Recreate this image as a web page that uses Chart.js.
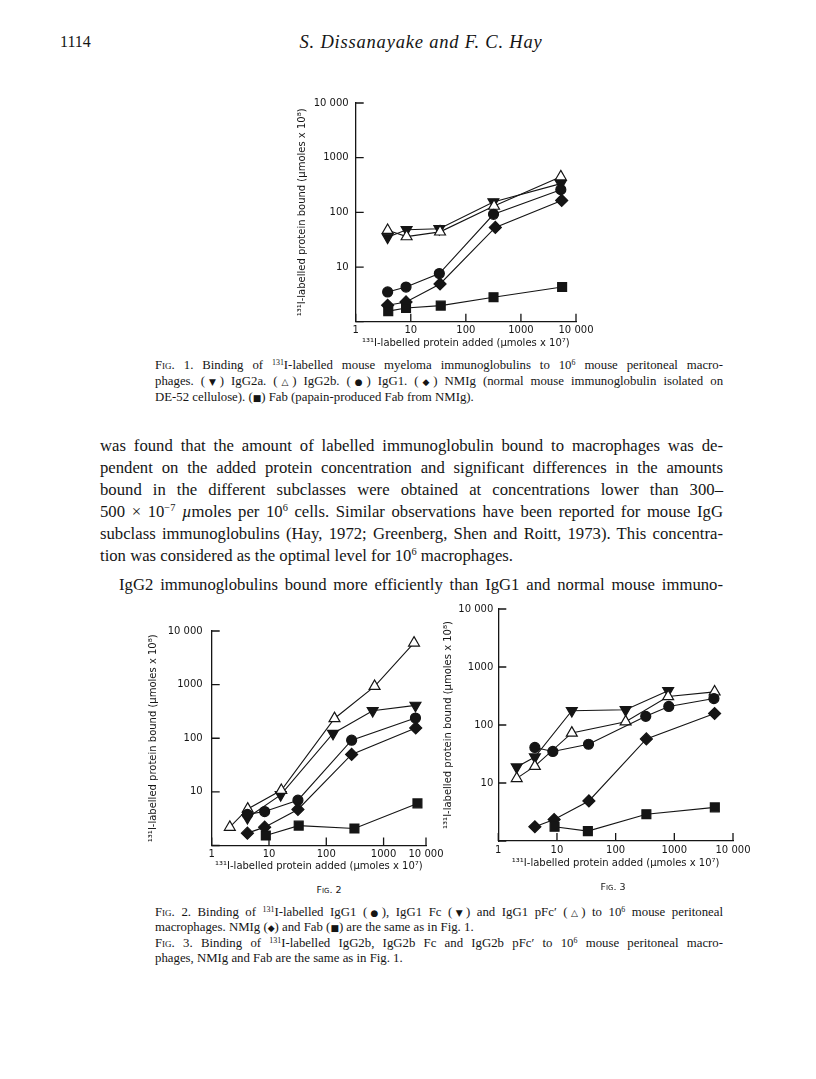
<!DOCTYPE html>
<html>
<head>
<meta charset="utf-8">
<script src="https://cdn.jsdelivr.net/npm/chart.js@4.4.1/dist/chart.umd.min.js"></script>
<style>
  body { margin: 0; background: #fff; }
  #page { position: relative; width: 816px; height: 1079px; overflow: hidden; font-family: "Liberation Serif", serif; color: #151515; }
  .t { position: absolute; white-space: nowrap; }
  .j { text-align: justify; text-align-last: justify; }
  .body { font-size: 16.7px; line-height: 22px; height: 22px; }
  .cap { font-size: 12.8px; line-height: 16px; height: 16px; }
  .sc { font-variant: small-caps; }
  .sym { font-family: "DejaVu Sans"; font-size: 9px; }
  sup { font-size: 0.62em; line-height: 0; vertical-align: 0.55em; }
  canvas { position: absolute; }
  .figlbl { position: absolute; font-family: "DejaVu Sans"; font-size: 9.5px; font-variant: small-caps; line-height: 12px; }
</style>
</head>
<body>
<div id="page">
  <div class="t" style="left:60px;top:32px;font-size:16px;line-height:20px;">1114</div>
  <div class="t" style="left:421px;top:31px;font-size:18.5px;line-height:22px;font-style:italic;transform:translateX(-50%);letter-spacing:0.8px;">S. Dissanayake and F. C. Hay</div>

  <canvas id="fig1" width="310" height="259" style="left:296px;top:90px;"></canvas>

  <div class="t cap j" style="left:155px;top:357px;width:568px;"><span class="sc">Fig.</span> 1. Binding of <sup>131</sup>I-labelled mouse myeloma immunoglobulins to 10<sup>6</sup> mouse peritoneal macro-</div>
  <div class="t cap j" style="left:155px;top:373px;width:568px;">phages. (<span class="sym">▼</span>) IgG2a. (<span class="sym">△</span>) IgG2b. (<span class="sym">●</span>) IgG1. (<span class="sym">◆</span>) NMIg (normal mouse immunoglobulin isolated on</div>
  <div class="t cap" style="left:155px;top:389px;">DE-52 cellulose). (<span class="sym">■</span>) Fab (papain-produced Fab from NMIg).</div>

  <div class="t body j" style="left:100px;top:435px;width:623px;">was found that the amount of labelled immunoglobulin bound to macrophages was de-</div>
  <div class="t body j" style="left:100px;top:457px;width:623px;">pendent on the added protein concentration and significant differences in the amounts</div>
  <div class="t body j" style="left:100px;top:479px;width:623px;">bound in the different subclasses were obtained at concentrations lower than 300–</div>
  <div class="t body j" style="left:100px;top:501px;width:623px;">500 × 10<sup>−7</sup> <i>µ</i>moles per 10<sup>6</sup> cells. Similar observations have been reported for mouse IgG</div>
  <div class="t body j" style="left:100px;top:523px;width:623px;">subclass immunoglobulins (Hay, 1972; Greenberg, Shen and Roitt, 1973). This concentra-</div>
  <div class="t body" style="left:100px;top:545px;">tion was considered as the optimal level for 10<sup>6</sup> macrophages.</div>
  <div class="t body j" style="left:119px;top:574px;width:604px;">IgG2 immunoglobulins bound more efficiently than IgG1 and normal mouse immuno-</div>

  <canvas id="fig2" width="309" height="256" style="left:147px;top:616px;"></canvas>
  <canvas id="fig3" width="321" height="271" style="left:442px;top:598px;"></canvas>

  <div class="figlbl" style="left:329px;top:884px;transform:translateX(-50%);">Fig. 2</div>
  <div class="figlbl" style="left:613px;top:881px;transform:translateX(-50%);">Fig. 3</div>

  <div class="t cap j" style="left:155px;top:904px;width:568px;"><span class="sc">Fig.</span> 2. Binding of <sup>131</sup>I-labelled IgG1 (<span class="sym">●</span>), IgG1 Fc (<span class="sym">▼</span>) and IgG1 pFc′ (<span class="sym">△</span>) to 10<sup>6</sup> mouse peritoneal</div>
  <div class="t cap" style="left:155px;top:919px;">macrophages. NMIg (<span class="sym">◆</span>) and Fab (<span class="sym">■</span>) are the same as in Fig. 1.</div>
  <div class="t cap j" style="left:155px;top:935px;width:568px;"><span class="sc">Fig.</span> 3. Binding of <sup>131</sup>I-labelled IgG2b, IgG2b Fc and IgG2b pFc′ to 10<sup>6</sup> mouse peritoneal macro-</div>
  <div class="t cap" style="left:155px;top:950px;">phages, NMIg and Fab are the same as in Fig. 1.</div>
</div>

<script>
// axis ticks as printed
const xTickVals = [1, 10, 100, 1000, 10000];
const xTickText = ['1', '10', '100', '1000', '10 000'];
const yTickVals = [1, 10, 100, 1000, 10000];
const yTickText = ['', '10', '100', '1000', '10 000'];
const xTitle = '¹³¹I-labelled protein added (µmoles x 10⁷)';
const yTitle = '¹³¹I-labelled protein bound (µmoles x 10⁸)';
// fig 2's x axis stops short of a decade but the end tick is still labelled 10 000
const fig2XMax = 5500;
const fig2XTickVals = [1, 10, 100, 1000, fig2XMax];

// Fig. 1
const f1IgG2aX = [3.8, 8.4, 33, 316, 5300];
const f1IgG2aY = [35, 48, 50, 155, 335];
const f1IgG2bX = [3.8, 8.4, 34, 325, 5300];
const f1IgG2bY = [47, 36, 44, 130, 450];
const f1IgG1X = [3.8, 8.2, 33, 318, 5300];
const f1IgG1Y = [3.5, 4.3, 7.6, 92, 260];
const f1NMIgX = [3.8, 8.2, 34, 343, 5500];
const f1NMIgY = [2.0, 2.3, 4.9, 53, 165];
const f1FabX = [3.9, 8.2, 35, 318, 5600];
const f1FabY = [1.56, 1.78, 1.97, 2.8, 4.3];

// Fig. 2
const f2PfcX = [2.07, 4.25, 16.4, 139, 697, 3400];
const f2PfcY = [2.2, 4.8, 10.7, 234, 930, 6000];
const f2FcX = [4.2, 16, 131, 645, 3600];
const f2FcY = [3.3, 8.8, 123, 327, 410];
const f2IgG1X = [4.2, 8.4, 32, 277, 3600];
const f2IgG1Y = [3.8, 4.3, 7.0, 92, 238];
const f2NMIgX = [4.2, 8.4, 32, 277, 3640];
const f2NMIgY = [1.7, 2.2, 4.7, 50, 156];
const f2FabX = [8.8, 33, 310, 3900];
const f2FabY = [1.54, 2.35, 2.07, 6.1];

// Fig. 3
const f3FcX = [2.06, 4.2, 17.9, 148, 785];
const f3FcY = [18.8, 28, 176, 183, 390];
const f3PfcX = [2.06, 4.2, 17.9, 148, 785, 4860];
const f3PfcY = [12, 19.5, 73, 114, 310, 373];
const f3IgG2bX = [4.2, 8.5, 34.5, 326, 805, 4730];
const f3IgG2bY = [41, 35, 46.6, 141, 209, 286];
const f3NMIgX = [4.2, 8.95, 35, 334, 4860];
const f3NMIgY = [1.76, 2.35, 4.9, 57.5, 158];
const f3FabX = [9.1, 33.6, 334, 4900];
const f3FabY = [1.76, 1.48, 2.9, 3.8];

const INK = '#151515';
const AXIS_FONT = { family: 'DejaVu Sans', size: 10 };
const down = { style: 'triangle', rot: 180, r: 6.3, open: false };
const openUp = { style: 'triangle', rot: 0, r: 6.3, open: true };
const dot = { style: 'circle', rot: 0, r: 5, open: false };
const diamond = { style: 'rectRot', rot: 0, r: 6, open: false };
const square = { style: 'rect', rot: 0, r: 6.3, open: false };

// little inward tick marks, printed inside the axes
const inwardTicks = {
  id: 'inwardTicks',
  afterDatasetsDraw(chart) {
    const { ctx, chartArea: a, scales: { x, y } } = chart;
    ctx.save();
    ctx.strokeStyle = INK;
    ctx.lineWidth = 1.3;
    ctx.beginPath();
    x.ticks.forEach(t => {
      const px = x.getPixelForValue(t.value);
      ctx.moveTo(px, a.bottom);
      ctx.lineTo(px, a.bottom - 8);
    });
    y.ticks.forEach(t => {
      const py = y.getPixelForValue(t.value);
      ctx.moveTo(a.left, py);
      ctx.lineTo(a.left + 8, py);
    });
    ctx.stroke();
    ctx.restore();
  }
};

function series(xs, ys, m) {
  return {
    data: xs.map((v, i) => ({ x: v, y: ys[i] })),
    showLine: true,
    borderColor: INK,
    borderWidth: 1.1,
    pointStyle: m.style,
    rotation: m.rot,
    pointRadius: m.r,
    pointHoverRadius: m.r,
    pointBackgroundColor: m.open ? '#fff' : INK,
    pointBorderColor: INK,
    pointBorderWidth: 1.2
  };
}

function drawFig(id, datasets, o) {
  const xVals = o.xVals || xTickVals;
  new Chart(document.getElementById(id), {
    type: 'scatter',
    data: { datasets },
    options: {
      responsive: false,
      animation: false,
      events: [],
      layout: { padding: { left: 0, top: o.top, right: 30, bottom: 0 } },
      plugins: { legend: { display: false }, tooltip: { enabled: false } },
      scales: {
        x: {
          type: 'logarithmic',
          min: 1,
          max: o.xMax || 10000,
          grid: { display: false, drawTicks: false },
          border: { display: true, color: INK, width: 1.3 },
          afterBuildTicks: s => { s.ticks = xVals.map(v => ({ value: v })); },
          afterFit: s => { s.height = o.xH; },
          ticks: {
            color: INK, padding: 3, maxRotation: 0, autoSkip: false,
            font: AXIS_FONT,
            callback: v => xTickText[xVals.indexOf(v)]
          },
          title: {
            display: true, text: xTitle, color: INK,
            padding: { top: 0, bottom: 0 },
            font: AXIS_FONT
          }
        },
        y: {
          type: 'logarithmic',
          min: 1,
          max: 10000,
          grid: { display: false, drawTicks: false },
          border: { display: true, color: INK, width: 1.3 },
          afterBuildTicks: s => { s.ticks = yTickVals.map(v => ({ value: v })); },
          afterFit: s => { s.width = o.yW; },
          ticks: {
            color: INK, padding: o.yPad, autoSkip: false,
            font: AXIS_FONT,
            callback: v => yTickText[yTickVals.indexOf(v)]
          },
          title: {
            display: true, text: yTitle, color: INK,
            padding: { top: 0, bottom: 0 },
            font: AXIS_FONT
          }
        }
      }
    },
    plugins: [inwardTicks]
  });
}

drawFig('fig1', [
  series(f1FabX, f1FabY, square),
  series(f1NMIgX, f1NMIgY, diamond),
  series(f1IgG1X, f1IgG1Y, dot),
  series(f1IgG2bX, f1IgG2bY, openUp),
  series(f1IgG2aX, f1IgG2aY, down)
], { top: 10, yW: 59.7, xH: 27.3, yPad: 7 });

drawFig('fig2', [
  series(f2FabX, f2FabY, square),
  series(f2NMIgX, f2NMIgY, diamond),
  series(f2IgG1X, f2IgG1Y, dot),
  series(f2PfcX, f2PfcY, openUp),
  series(f2FcX, f2FcY, down)
], { top: 10, yW: 64.7, xH: 26.5, yPad: 9, xMax: fig2XMax, xVals: fig2XTickVals });

drawFig('fig3', [
  series(f3FabX, f3FabY, square),
  series(f3NMIgX, f3NMIgY, diamond),
  series(f3IgG2bX, f3IgG2bY, dot),
  series(f3PfcX, f3PfcY, openUp),
  series(f3FcX, f3FcY, down)
], { top: 9.7, yW: 56.3, xH: 28, yPad: 5 });
</script>
</body>
</html>
